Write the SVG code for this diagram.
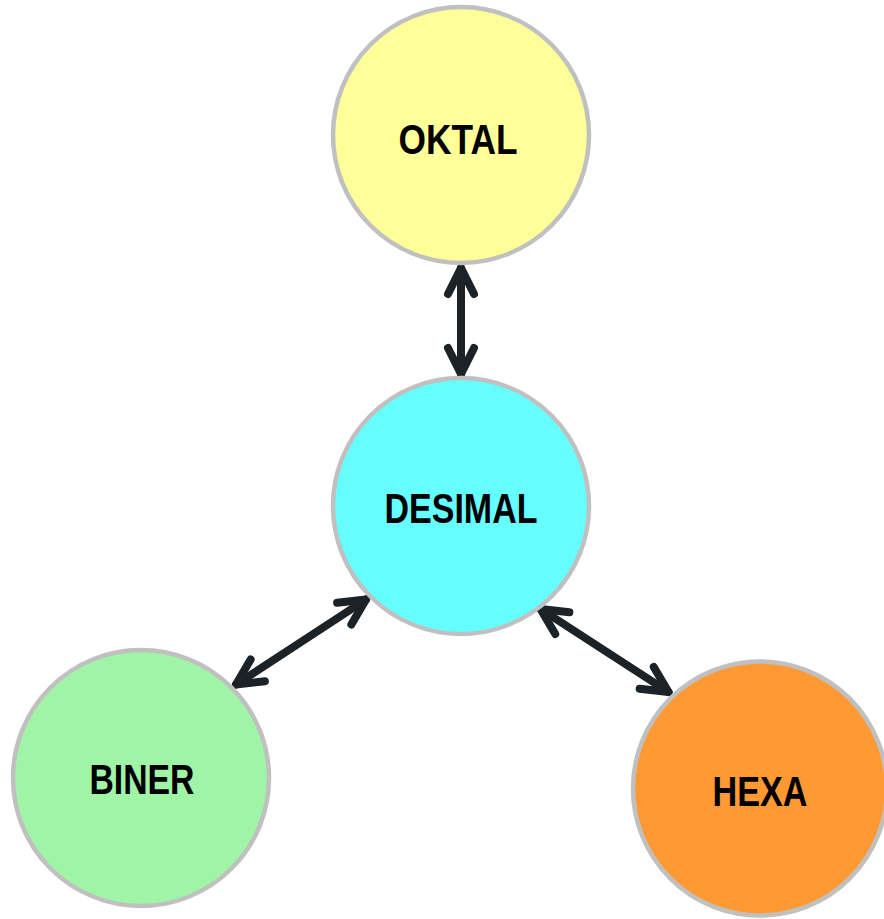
<svg xmlns="http://www.w3.org/2000/svg" width="884" height="919" viewBox="0 0 884 919">
  <style>
    .node { stroke: #c0c0c0; stroke-width: 4.5; }
    .label { font-family: "Liberation Sans", Arial, sans-serif; font-weight: bold; font-size: 43px; fill: #000000; text-anchor: middle; }
    .link { fill: none; stroke: #1b2228; stroke-width: 8; stroke-linecap: round; stroke-linejoin: round; }
  </style>
  <defs>
    <marker id="chevron" markerUnits="userSpaceOnUse" orient="auto-start-reverse" markerWidth="40" markerHeight="40" viewBox="-32 -20 40 40" refX="0" refY="0" overflow="visible">
      <path d="M -26 -13 L 0 0 L -26 13" fill="none" stroke="#1b2228" stroke-width="8" stroke-linecap="round" stroke-linejoin="round"/>
    </marker>
  </defs>
  <rect width="884" height="919" fill="#ffffff"/>

  <g id="connectors">
    <path class="link" d="M 461 268 L 461 374" marker-start="url(#chevron)" marker-end="url(#chevron)"/>
    <path class="link" d="M 236 684.5 L 366 599.5" marker-start="url(#chevron)" marker-end="url(#chevron)"/>
    <path class="link" d="M 540.5 609 L 668.5 692" marker-start="url(#chevron)" marker-end="url(#chevron)"/>
  </g>

  <g id="oktal">
    <circle class="node" cx="461" cy="135" r="128" fill="#ffff99"/>
    <text class="label" x="458" y="154" textLength="119" lengthAdjust="spacingAndGlyphs">OKTAL</text>
  </g>

  <g id="desimal">
    <circle class="node" cx="461" cy="506" r="128" fill="#66ffff"/>
    <text class="label" x="461" y="523" textLength="153" lengthAdjust="spacingAndGlyphs">DESIMAL</text>
  </g>

  <g id="biner">
    <circle class="node" cx="141" cy="778" r="128" fill="#a0f4a6"/>
    <text class="label" x="142" y="794" textLength="105" lengthAdjust="spacingAndGlyphs">BINER</text>
  </g>

  <g id="hexa">
    <circle class="node" cx="760" cy="788.5" r="127" fill="#ff9933"/>
    <text class="label" x="760" y="806" textLength="95" lengthAdjust="spacingAndGlyphs">HEXA</text>
  </g>
</svg>
